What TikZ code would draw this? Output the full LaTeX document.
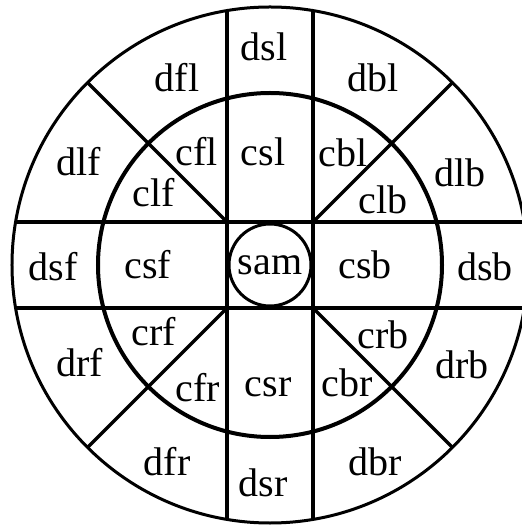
\documentclass[tikz,border=0pt]{standalone}
\usepackage{fontspec}
\setmainfont{Liberation Serif}
\usepackage{tikz}
\usetikzlibrary{positioning}
\definecolor{ringblack}{HTML}{000000}
\newcommand{\sectorfont}{\fontsize{20}{23}\selectfont}
\tikzset{
  % Rings and dividing lines
  ring/.style={draw=ringblack, line width=1.5pt},
  midring/.style={draw=ringblack, line width=2pt},
  divider/.style={draw=ringblack, line width=1.7pt},
  % Central hub
  hub/.style={
    draw=ringblack, circle, line width=1.5pt,
    minimum size=41pt, inner sep=0pt,
    font=\sectorfont, text=ringblack,
  },
  % Sector labels
  sector/.style={font=\sectorfont, text=ringblack, inner sep=0pt},
}

\begin{document}
\begin{tikzpicture}[x=0.5pt, y=0.5pt]
  \useasboundingbox (-270,-264) rectangle (252,265);
  \clip (-270,-264) rectangle (252,265);
  % corners of the centre square
  \coordinate (sqtl) at (-43,43);
  \coordinate (sqtr) at (43,43);
  \coordinate (sqbl) at (-43,-43);
  \coordinate (sqbr) at (43,-43);
  % ends of the dividers on the outer ring
  \coordinate (vlt) at (-43,254.4);
  \coordinate (vlb) at (-43,-254.4);
  \coordinate (vrt) at (43,254.4);
  \coordinate (vrb) at (43,-254.4);
  \coordinate (hlt) at (-254.4,43);
  \coordinate (hrt) at (254.4,43);
  \coordinate (hlb) at (-254.4,-43);
  \coordinate (hrb) at (254.4,-43);
  \coordinate (otl) at (135:258);
  \coordinate (otr) at (45:258);
  \coordinate (obl) at (225:258);
  \coordinate (obr) at (315:258);

  \draw[ring] (0,0) circle[radius=258];
  \draw[midring] (0,0) circle[radius=172];

  \draw[divider] (vlt) -- (vlb);
  \draw[divider] (vrt) -- (vrb);
  \draw[divider] (hlt) -- (hrt);
  \draw[divider] (hlb) -- (hrb);
  \draw[divider] (sqtl) -- (otl);
  \draw[divider] (sqtr) -- (otr);
  \draw[divider] (sqbl) -- (obl);
  \draw[divider] (sqbr) -- (obr);

  \node[hub, fill=white] (sam) at (0,0) {sam};

  % inner ring
  \node[sector] (cfl) at (-73,113) {cfl};
  \node[sector] (csl) at (-7,113) {csl};
  \node[sector] (cbl) at (73,112) {cbl};
  \node[sector] (clf) at (-116,72) {clf};
  \node[sector] (clb) at (113,65) {clb};
  \node[sector] (csf) at (-122,0) {csf};
  \node[sector] (csb) at (95,0) {csb};
  \node[sector] (crf) at (-116,-67) {crf};
  \node[sector] (crb) at (113,-70) {crb};
  \node[sector] (cfr) at (-72,-123) {cfr};
  \node[sector] (csr) at (-2,-122) {csr};
  \node[sector] (cbr) at (77,-118) {cbr};

  % outer ring
  \node[sector] (dsl) at (-6,218) {dsl};
  \node[sector] (dfl) at (-93,187) {dfl};
  \node[sector] (dbl) at (103,187) {dbl};
  \node[sector] (dlf) at (-191,103) {dlf};
  \node[sector] (dlb) at (190,92) {dlb};
  \node[sector] (dsf) at (-217,-2) {dsf};
  \node[sector] (dsb) at (215,-2) {dsb};
  \node[sector] (drf) at (-190,-98) {drf};
  \node[sector] (drb) at (192,-100) {drb};
  \node[sector] (dfr) at (-103,-197) {dfr};
  \node[sector] (dsr) at (-7,-218) {dsr};
  \node[sector] (dbr) at (105,-197) {dbr};
\end{tikzpicture}
\end{document}
